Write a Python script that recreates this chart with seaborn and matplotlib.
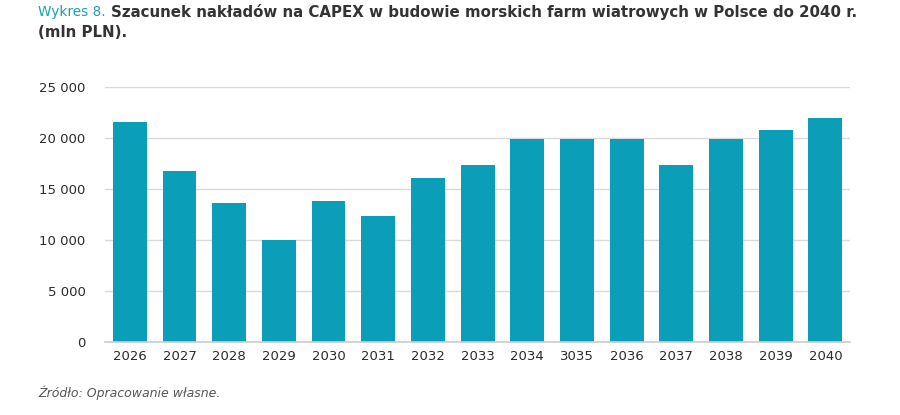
import matplotlib
matplotlib.use('Agg')
import matplotlib.pyplot as plt
import seaborn as sns
import pandas as pd
from matplotlib.ticker import FuncFormatter

# dane (mln PLN)
lata = ['2026', '2027', '2028', '2029', '2030', '2031', '2032', '2033',
        '2034', '3035', '2036', '2037', '2038', '2039', '2040']
capex = [21600, 16800, 13650, 10000, 13850, 12400, 16100, 17400,
         19900, 19900, 19900, 17400, 19900, 20800, 22000]
y_ticks = [0, 5000, 10000, 15000, 20000, 25000]

df = pd.DataFrame({'rok': lata, 'capex': capex})

sns.set_style('white')
plt.rcParams['font.family'] = ['DejaVu Sans']

fig = plt.figure(figsize=(9, 4.15), dpi=100)
ax = fig.add_axes([0.1167, 0.176, 0.828, 0.614])

sns.barplot(data=df, x='rok', y='capex', color='#0b9eb8', saturation=1,
            width=0.68, linewidth=0, ax=ax)

ax.set_ylim(0, 25000)
ax.set_xlim(-0.5, len(lata) - 0.5)
ax.set_yticks(y_ticks)
ax.yaxis.set_major_formatter(FuncFormatter(lambda v, p: f'{int(v):,}'.replace(',', ' ')))
ax.grid(axis='y', color='#d9d9d9', linewidth=1)
ax.set_axisbelow(True)
for s in ['top', 'right', 'left']:
    ax.spines[s].set_visible(False)
ax.spines['bottom'].set_color('#cccccc')
ax.spines['bottom'].set_linewidth(1.2)
ax.tick_params(axis='both', length=0, labelsize=9.5, colors='#2b2b2b', pad=6)
ax.tick_params(axis='y', pad=14)
ax.set_xlabel('')
ax.set_ylabel('')

# tytuł
fig.text(0.042, 0.971, 'Wykres 8.', color='#1a9fb5', fontsize=9.8, va='center')
fig.text(0.123, 0.971, 'Szacunek nakładów na CAPEX w budowie morskich farm wiatrowych w Polsce do 2040 r.',
         color='#333333', fontsize=10.8, fontweight='bold', va='center')
fig.text(0.042, 0.922, '(mln PLN).', color='#333333', fontsize=10.8,
         fontweight='bold', va='center')

fig.text(0.042, 0.053, 'Źródło: Opracowanie własne.', color='#555555',
         fontsize=9, style='italic', va='center')

plt.savefig('out.png', dpi=100)
